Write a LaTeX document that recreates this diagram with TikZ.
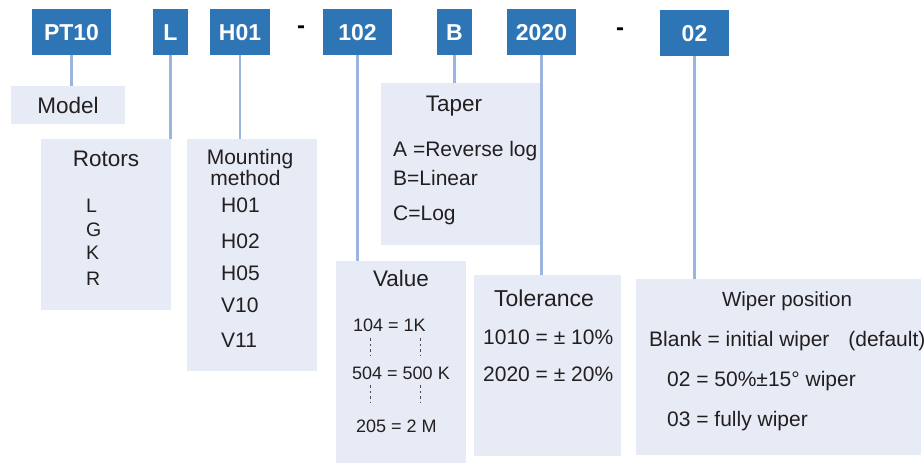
\documentclass[tikz,border=0pt]{standalone}
\usepackage{fontspec}
\setmainfont{Liberation Sans}
\usetikzlibrary{positioning}
\definecolor{codeblue}{HTML}{2E75B6}
\definecolor{panel}{HTML}{E7EBF6}
\definecolor{linkblue}{HTML}{9DB5DE}
\definecolor{ink}{HTML}{231F20}

\begin{document}
\begin{tikzpicture}[x=1pt, y=-1pt,
    code/.style={fill=codeblue, text=white, font=\fontsize{23}{23}\selectfont\bfseries,
                 minimum height=46pt, text height=17pt, text depth=0pt, inner sep=0pt},
    panelbox/.style={fill=panel, anchor=north west, inner sep=0pt},
    link/.style={draw=linkblue, line width=2.5pt},
    head/.style={text=ink, font=\fontsize{22.5}{22.5}\selectfont, inner sep=0pt, anchor=base},
    item/.style={text=ink, font=\fontsize{21}{21}\selectfont, inner sep=0pt, anchor=base west},
    small/.style={text=ink, font=\fontsize{18}{18}\selectfont, inner sep=0pt, anchor=base west},
    vdash/.style={draw=black!70, line width=1pt, dash pattern=on 2.5pt off 3pt}]
    \useasboundingbox (0,0) rectangle (924,463);

    % part number codes
    \node[code, minimum width=79pt] (pt) at (71.5,32) {PT10};
    \node[code, minimum width=35pt] (rotcode) at (170.5,32) {L};
    \node[code, minimum width=60pt] (mntcode) at (240,31.5) {H01};
    \node[font=\fontsize{24}{24}\selectfont\bfseries, inner sep=0pt] (dashA) at (301,30) {-};
    \node[code, minimum width=69pt] (valcode) at (357.5,32) {102};
    \node[code, minimum width=35pt] (tapcode) at (454.5,32) {B};
    \node[code, minimum width=69pt] (tolcode) at (541.5,32) {2020};
    \node[font=\fontsize{24}{24}\selectfont\bfseries, inner sep=0pt] (dashB) at (620,32) {-};
    \node[code, minimum width=69pt] (wipcode) at (694.5,33) {02};

    % description panels
    \node[panelbox, minimum width=114pt, minimum height=38pt] (model) at (11,86) {};
    \node[panelbox, minimum width=130pt, minimum height=171pt] (rotors) at (41,139) {};
    \node[panelbox, minimum width=130pt, minimum height=232pt] (mount) at (187,139) {};
    \node[panelbox, minimum width=160pt, minimum height=162pt] (taper) at (381,83) {};
    \node[panelbox, minimum width=130pt, minimum height=202pt] (value) at (336,261) {};
    \node[panelbox, minimum width=147pt, minimum height=181pt] (tol) at (474,275) {};
    \node[panelbox, minimum width=285pt, minimum height=176pt] (wiper) at (636,279) {};

    % connectors
    \draw[link] (pt.south) -- (pt.south |- model.north);
    \draw[link] (rotcode.south) -- (rotcode.south |- rotors.north);
    \draw[link] (mntcode.south) -- (mntcode.south |- mount.north);
    \draw[link] (valcode.south) -- (valcode.south |- value.north);
    \draw[link] (tapcode.south) -- (tapcode.south |- taper.north);
    \draw[link] (tolcode.south) -- (tolcode.south |- tol.north);
    \draw[link] (wipcode.south) -- (wipcode.south |- wiper.north);

    % Model
    \node[head] (modelhd) at (68,113) {Model};

    % Rotors
    \node[head] (rothd) at (106,166) {Rotors};
    \node[small, font=\fontsize{19.5}{19.5}\selectfont] (rotL) at (86,212) {L};
    \node[small, font=\fontsize{19.5}{19.5}\selectfont] (rotG) at (86,236) {G};
    \node[small, font=\fontsize{19.5}{19.5}\selectfont] (rotK) at (86,259) {K};
    \node[small, font=\fontsize{19.5}{19.5}\selectfont] (rotR) at (86,285) {R};

    % Mounting method
    \node[head, font=\fontsize{21}{21}\selectfont] (mnthdA) at (250,164.5) {Mounting};
    \node[head, font=\fontsize{21}{21}\selectfont] (mnthdB) at (245.5,185.5) {method};
    \node[item] (mntA) at (221,212) {H01};
    \node[item] (mntB) at (221,248) {H02};
    \node[item] (mntC) at (221,280) {H05};
    \node[item] (mntD) at (221,312) {V10};
    \node[item] (mntE) at (221,347) {V11};

    % Taper
    \node[head] (taphd) at (454,111) {Taper};
    \node[item] (tapA) at (393,156) {A =Reverse log};
    \node[item] (tapB) at (393,185) {B=Linear};
    \node[item] (tapC) at (393,220) {C=Log};

    % Value
    \node[head] (valhd) at (401,286) {Value};
    \node[small] (valA) at (353,331) {104 = 1K};
    \node[small] (valB) at (352,379) {504 = 500 K};
    \node[small] (valC) at (356,432) {205 = 2 M};
    \draw[vdash] (370,338) -- (370,355);
    \draw[vdash] (420,338) -- (420,355);
    \draw[vdash] (370,385) -- (370,402);
    \draw[vdash] (420,385) -- (420,402);

    % Tolerance
    \node[head, font=\fontsize{23}{23}\selectfont] (tolhd) at (544,306) {Tolerance};
    \node[item] (tolA) at (483,344) {1010 = ± 10\%};
    \node[item] (tolB) at (483,381) {2020 = ± 20\%};

    % Wiper position
    \node[head, font=\fontsize{20.5}{20.5}\selectfont] (wiphd) at (787,306) {Wiper position};
    \node[item] (wipA) at (649,346) {Blank = initial wiper\hspace{0.9em}(default)};
    \node[item] (wipB) at (667,386) {02 = 50\%±15° wiper};
    \node[item] (wipC) at (667,426) {03 = fully wiper};
\end{tikzpicture}
\end{document}
